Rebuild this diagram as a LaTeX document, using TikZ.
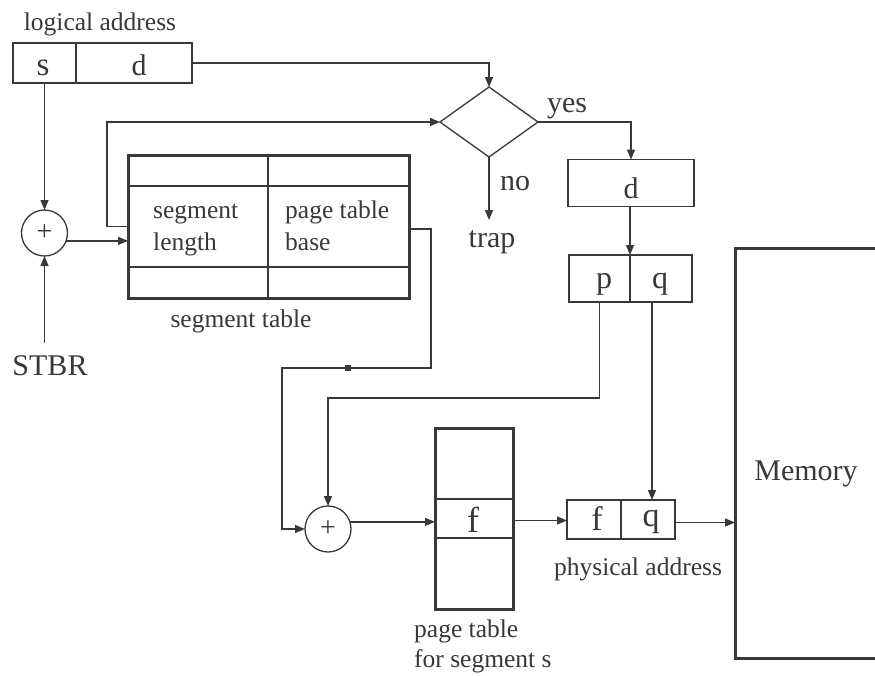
\documentclass[tikz,border=0pt]{standalone}
\usepackage{fontspec}
\setmainfont{Liberation Serif}
\usetikzlibrary{shapes.geometric,arrows.meta}
\definecolor{ink}{gray}{0.22}
\tikzset{
  thin/.style={draw=ink, line width=1.3pt},
  box/.style={thin, rectangle, inner sep=0pt, outer sep=0pt},
  tbox/.style={draw=ink, line width=3pt, rectangle, inner sep=0pt, outer sep=0pt},
  arr/.style={thin, -{Triangle[length=10pt,width=8pt]}},
  txt/.style={text=ink, inner sep=0pt, anchor=base},
  big/.style={txt, font=\fontsize{30}{34}\selectfont},
  small/.style={txt, font=\fontsize{25.5}{30}\selectfont},
  adder/.style={thin, circle, minimum size=46pt, inner sep=0pt, outer sep=0pt, text=ink, font=\fontsize{28}{30}\selectfont},
}
\begin{document}
\begin{tikzpicture}[x=1pt,y=-1pt]
\useasboundingbox (0,0) rectangle (875,675);
\clip (0,0) rectangle (875,675);
% logical address
\node[small] (lalab) at (100,30) {logical address};
\node[box, minimum width=63pt, minimum height=40pt] (s) at (44.5,63) {};
\node[box, minimum width=116pt, minimum height=40pt] (ld) at (134,63) {};
\node[big, font=\fontsize{33}{36}\selectfont] (stxt) at (43,75) {s};
\node[big] (dtxt) at (139,75) {d};
% adder 1
\node[adder] (c1) at (44.5,233) {+};
\node[big] (stbr) at (50,375) {STBR};
\coordinate (stbrtop) at (44.5,343);
% segment table
\node[tbox, minimum width=281pt, minimum height=143pt] (st) at (268.5,226.5) {};
\draw[thin] (st.north west |- 0,186) -- (st.north east |- 0,186);
\draw[thin] (st.north west |- 0,267) -- (st.north east |- 0,267);
\draw[thin] (268,155) -- (268,298);
\node[small, anchor=base west] (seg1) at (153,218) {segment};
\node[small, anchor=base west] (seg2) at (153,250) {length};
\node[small, anchor=base west] (ptb1) at (285,218) {page table};
\node[small, anchor=base west] (ptb2) at (285,250) {base};
\node[small] (stlab) at (241,327) {segment table};
% diamond
\node[thin, diamond, minimum width=98pt, minimum height=70pt, inner sep=0pt, outer sep=0pt] (dia) at (489,122) {};
\node[big] (yes) at (567,112) {yes};
\node[big] (no) at (515,190) {no};
\node[big] (trap) at (492,247) {trap};
\coordinate (trapend) at (489,220);
% d box
\node[box, minimum width=126pt, minimum height=47pt] (dbox) at (631,183) {};
\node[big] (dtxt2) at (631,198) {d};
% p q
\node[box, minimum width=61pt, minimum height=47pt] (p) at (599.5,278.5) {};
\node[box, minimum width=62pt, minimum height=47pt] (q) at (661,278.5) {};
\node[big, font=\fontsize{32}{34}\selectfont] (ptxt) at (604,288) {p};
\node[big, font=\fontsize{32}{34}\selectfont] (qtxt) at (660,288) {q};
% adder 2
\node[adder] (c2) at (328,529) {+};
\node[fill=ink, minimum size=6pt, inner sep=0pt] (sq) at (348,368) {};
\coordinate (k1) at (431,368);
\coordinate (k2) at (282,368);
% page table
\node[tbox, minimum width=78pt, minimum height=181pt] (pt) at (474,518.5) {};
\node[box, minimum width=78pt, minimum height=39pt] (frow) at (474,518.5) {};
\node[big, font=\fontsize{36}{38}\selectfont] (ftxt) at (473,532) {f};
\node[small, anchor=base west] (ptlab1) at (414,637) {page table};
\node[small, anchor=base west] (ptlab2) at (414,667) {for segment s};
% physical address
\node[box, minimum width=54pt, minimum height=39pt] (pf) at (594,519.5) {};
\node[box, minimum width=54pt, minimum height=39pt] (pq2) at (648,519.5) {};
\node[big, font=\fontsize{34}{36}\selectfont] (pftxt) at (597,530) {f};
\node[big, font=\fontsize{34}{36}\selectfont] (pqtxt) at (651,526) {q};
\node[small] (palab) at (638,575) {physical address};
% memory
\node[tbox, minimum width=170pt, minimum height=410pt] (mem) at (820,453) {};
\node[big] (memtxt) at (806,480) {Memory};
% connectors
\draw[arr] (ld.east) -| (dia.north);
\draw[arr] (st.west) -- ++(-21,0) |- (dia.west);
\draw[arr] (dia.east) -| (dbox.north);
\draw[arr] (dia.south) -- (trapend);
\draw[arr] (p.north east |- dbox.south) -- (p.north east);
\draw[arr] (s.south) -- (c1.north);
\draw[arr] (stbrtop) -- (c1.south);
\draw[arr] (c1.-20) -- (c1.-20 -| st.west);
\draw[arr] ([yshift=-2.5pt]st.east) -| (k1) -- (k2) |- (c2.west);
\draw[arr] (p.south) -- ++(0,96) -| (c2.north);
\draw[arr] ([xshift=-9pt]q.south) -- ([xshift=-9pt]q.south |- pq2.north);
\draw[arr] (c2.18) -- (c2.18 -| pt.west);
\draw[arr] ([yshift=-2pt]frow.east) -- ([yshift=-2pt]frow.east -| pf.west);
\draw[arr] ([yshift=-3pt]pq2.east) -- ([yshift=-3pt]pq2.east -| mem.west);
\end{tikzpicture}
\end{document}
